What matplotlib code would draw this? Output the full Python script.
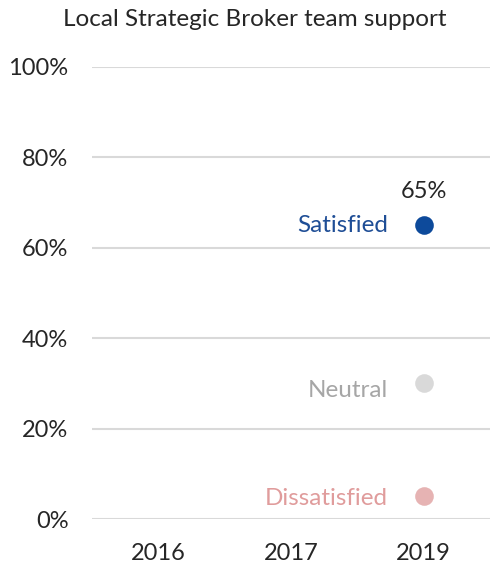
import matplotlib
matplotlib.use("Agg")
import matplotlib.pyplot as plt

title = "Local Strategic Broker team support"
years = ["2016", "2017", "2019"]
series = ["Satisfied", "Neutral", "Dissatisfied"]
values_2019 = [65, 30, 5]
marker_colors = ["#0D4A9B", "#D9D9D9", "#E6B3B3"]
text_colors = ["#1F4E96", "#A6A6A6", "#E09C9C"]
yticks = [0, 20, 40, 60, 80, 100]

plt.rcParams['font.family'] = ['Lato', 'DejaVu Sans']

fig = plt.figure(figsize=(4.9, 5.64), dpi=100)
ax = fig.add_axes([92/490, 45/564, 398/490, 452/564])
ax.set_xlim(-0.5, 2.5)
ax.set_ylim(0, 100)
ax.set_yticks(yticks)
ax.set_yticklabels([f"{v}%" for v in yticks], fontsize=17, color="#262626")
ax.set_xticks(range(len(years)))
ax.set_xticklabels(years, fontsize=17, color="#262626")
ax.tick_params(length=0, axis='y', pad=17)
ax.tick_params(length=0, axis='x', pad=17)
for s in ax.spines.values():
    s.set_visible(False)
ax.grid(axis='y', color="#D9D9D9", linewidth=1.5)
ax.set_axisbelow(True)

xi = years.index("2019")
offsets = {"Satisfied": 0, "Neutral": -7, "Dissatisfied": -2}
for name, v, mc, tc in zip(series, values_2019, marker_colors, text_colors):
    ax.scatter([xi], [v], s=180, color=mc, zorder=3, linewidths=0)
    ax.annotate(name, (xi, v), xytext=(-36, offsets[name]),
                textcoords="offset pixels", ha="right", va="center",
                fontsize=17.5, color=tc)
ax.annotate(f"{values_2019[0]}%", (xi, values_2019[0]), xytext=(0, 34),
            textcoords="offset pixels", ha="center", va="center",
            fontsize=17, color="#262626")

fig.text(255/490, 1 - 20/564, title, ha="center", va="center", fontsize=17.5, color="#262626")

fig.savefig("out.png", dpi=100)
